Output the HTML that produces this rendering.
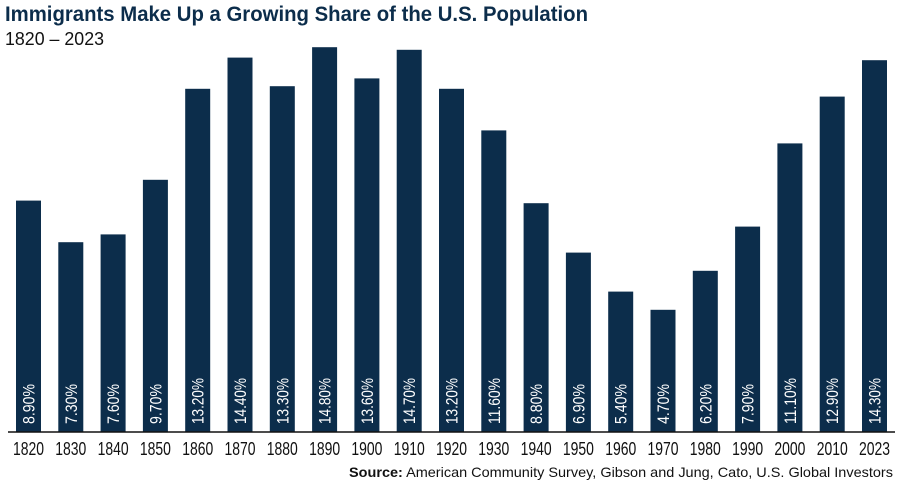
<!DOCTYPE html>
<html><head><meta charset="utf-8"><style>
body{margin:0;background:#fff;}
svg{display:block;font-family:"Liberation Sans",sans-serif;}
</style></head><body>
<svg id="c" width="900" height="488" viewBox="0 0 900 488">
<text x="5" y="21" font-size="21" font-weight="bold" fill="#0c2d4b" textLength="583" lengthAdjust="spacingAndGlyphs">Immigrants Make Up a Growing Share of the U.S. Population</text>
<text x="5" y="45" font-size="18" fill="#111" textLength="99" lengthAdjust="spacingAndGlyphs">1820 – 2023</text>
<g id="bars"></g>
<line x1="8" y1="432" x2="895" y2="432" stroke="#111" stroke-width="1.5"/>
<text x="893" y="477" font-size="14" fill="#111" text-anchor="end" textLength="544" lengthAdjust="spacingAndGlyphs"><tspan font-weight="bold">Source:</tspan> American Community Survey, Gibson and Jung, Cato, U.S. Global Investors</text>
</svg>
<script>
const categories=["1820","1830","1840","1850","1860","1870","1880","1890","1900","1910","1920","1930","1940","1950","1960","1970","1980","1990","2000","2010","2023"];
const values=[8.9,7.3,7.6,9.7,13.2,14.4,13.3,14.8,13.6,14.7,13.2,11.6,8.8,6.9,5.4,4.7,6.2,7.9,11.1,12.9,14.3];
const labels=["8.90%","7.30%","7.60%","9.70%","13.20%","14.40%","13.30%","14.80%","13.60%","14.70%","13.20%","11.60%","8.80%","6.90%","5.40%","4.70%","6.20%","7.90%","11.10%","12.90%","14.30%"];
const NS="http://www.w3.org/2000/svg";
const base=432, pxPer=26.0;
const x=i=>16+i*42.3;
const y=v=>base-v*pxPer;
const g=document.getElementById('bars');
categories.forEach((c,i)=>{
  const r=document.createElementNS(NS,'rect');
  r.setAttribute('x',x(i));r.setAttribute('y',y(values[i]));
  r.setAttribute('width',25);r.setAttribute('height',base-y(values[i]));
  r.setAttribute('fill','#0c2d4b');
  
  
  g.appendChild(r);
  const t=document.createElementNS(NS,'text');
  const cx=x(i)+12.5+6;
  t.setAttribute('transform','translate('+cx+',424) rotate(-90)');
  t.setAttribute('font-size','17');t.setAttribute('fill','#fff');
  t.setAttribute('textLength',labels[i].length>5?46:40);
  t.setAttribute('lengthAdjust','spacingAndGlyphs');
  t.textContent=labels[i];
  
  
  g.appendChild(t);
  const l=document.createElementNS(NS,'text');
  l.setAttribute('x',x(i)+12.5);l.setAttribute('y',455);
  l.setAttribute('text-anchor','middle');l.setAttribute('font-size','18');l.setAttribute('fill','#111');
  l.setAttribute('textLength',31);l.setAttribute('lengthAdjust','spacingAndGlyphs');
  l.textContent=c;
  
  
  g.appendChild(l);
});
</script>
</body></html>
